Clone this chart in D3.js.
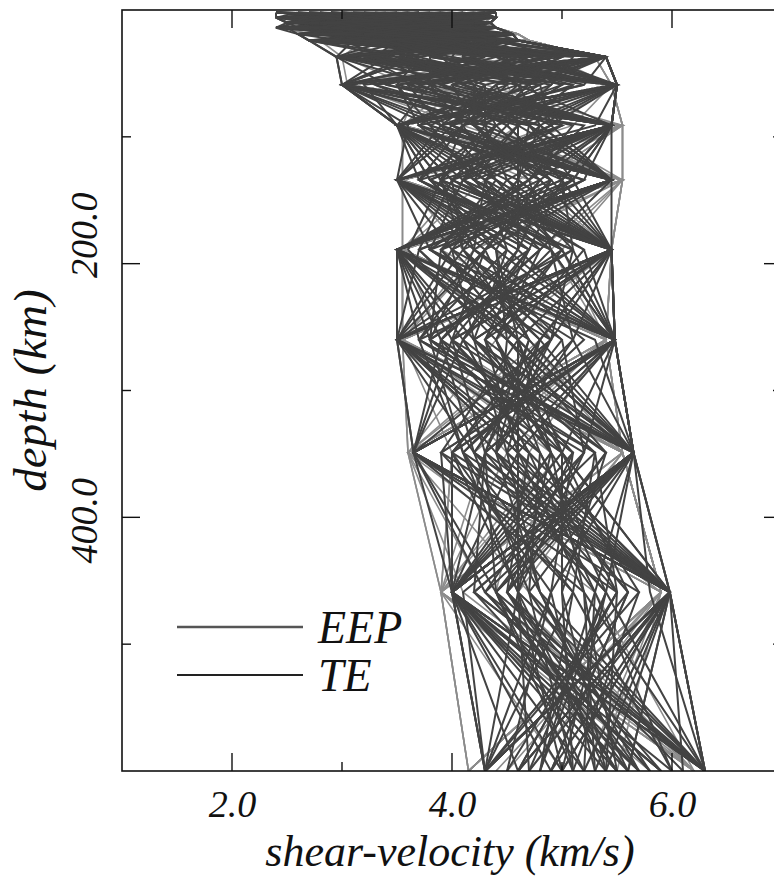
<!DOCTYPE html>
<html>
<head>
<meta charset="utf-8">
<script src="https://cdn.jsdelivr.net/npm/d3@7/dist/d3.min.js"></script>
<style>
  html, body { margin: 0; padding: 0; background: #fff; }
  svg { display: block; }
  text { font-family: "Liberation Serif", "Times New Roman", Tinos, serif; font-style: italic; fill: #111; }
</style>
</head>
<body>
<svg id="chart" width="774" height="879"></svg>
<script>
// Depths (km) of the model nodes shared by every shear-velocity profile
const nodeDepths = [2, 6, 10, 14, 19, 24, 37, 59, 91, 134, 189, 260, 349, 459, 600];

// TE ensemble: shear velocity (km/s) at each node depth
const teProfiles = [
  [3.10, 4.40, 2.60, 3.85, 4.20, 3.30, 5.40, 3.00, 4.80, 5.45, 3.90, 4.60, 5.65, 4.40, 5.10],
  [4.40, 2.40, 3.70, 4.40, 2.90, 4.10, 3.20, 5.50, 3.50, 4.20, 5.45, 3.50, 4.70, 5.98, 4.60],
  [2.40, 3.60, 4.35, 2.70, 4.55, 2.80, 4.70, 4.10, 5.45, 3.50, 4.60, 5.48, 3.65, 5.20, 6.30],
  [3.80, 2.90, 3.10, 4.40, 3.40, 4.60, 2.95, 5.10, 4.00, 5.10, 3.50, 4.20, 5.10, 4.00, 5.70],
  [2.70, 4.10, 2.50, 3.20, 4.10, 3.70, 5.40, 3.60, 5.45, 4.30, 5.00, 3.80, 5.65, 4.90, 4.30],
  [4.20, 4.40, 3.90, 2.40, 3.00, 4.30, 3.80, 5.50, 3.90, 3.50, 5.45, 4.90, 4.20, 5.98, 5.40],
  [3.40, 2.40, 4.35, 3.60, 2.60, 2.70, 5.00, 3.00, 5.20, 4.70, 3.80, 5.48, 4.00, 4.60, 6.30],
  [2.40, 3.20, 2.80, 4.10, 4.55, 4.00, 3.40, 4.50, 3.50, 5.45, 4.30, 3.70, 5.65, 5.30, 4.80],
  [3.90, 3.70, 3.30, 2.90, 3.60, 4.60, 5.40, 5.50, 4.40, 3.90, 3.60, 4.40, 4.90, 4.00, 5.90],
  [4.40, 2.70, 4.00, 4.40, 2.90, 3.10, 2.95, 3.80, 5.45, 4.00, 5.20, 5.48, 3.65, 5.98, 4.30],
  [2.90, 4.40, 2.50, 3.40, 4.30, 3.50, 4.30, 3.00, 3.80, 5.45, 4.80, 3.90, 5.40, 4.50, 6.10],
  [3.60, 3.00, 4.35, 2.40, 3.90, 2.70, 5.40, 4.70, 5.00, 3.50, 3.80, 5.10, 4.40, 5.98, 5.00],
  [4.10, 3.90, 3.60, 4.40, 2.60, 4.60, 3.10, 5.50, 3.50, 4.60, 5.45, 4.20, 5.65, 4.20, 6.30],
  [2.40, 4.40, 3.00, 3.70, 4.55, 3.90, 4.90, 3.30, 4.60, 5.45, 4.10, 3.50, 4.60, 5.60, 4.30],
  [3.20, 2.40, 4.20, 3.00, 3.20, 4.60, 2.95, 4.20, 5.45, 3.70, 4.90, 5.48, 3.90, 4.00, 5.50],
  [4.40, 3.50, 2.50, 4.40, 4.00, 2.90, 5.40, 5.50, 4.20, 4.90, 3.50, 4.70, 5.65, 5.98, 4.70],
  [2.80, 4.20, 3.90, 2.60, 4.55, 3.60, 3.60, 3.00, 3.50, 5.10, 5.45, 3.70, 4.10, 4.80, 6.30],
  [3.70, 2.60, 4.35, 3.90, 2.80, 4.40, 5.40, 4.00, 5.45, 3.50, 4.00, 5.48, 5.00, 4.00, 5.20],
  [4.00, 4.40, 2.70, 4.40, 3.70, 3.20, 4.00, 5.50, 4.10, 4.40, 5.45, 4.00, 3.65, 5.98, 4.30],
  [2.40, 3.40, 3.50, 2.40, 4.55, 4.20, 2.95, 3.40, 5.45, 5.20, 3.70, 4.50, 5.65, 4.30, 5.80],
  [3.30, 2.40, 4.35, 4.20, 2.60, 2.70, 5.40, 5.20, 3.50, 3.80, 5.00, 5.48, 4.30, 5.40, 6.30],
  [4.40, 4.00, 3.20, 3.30, 4.40, 4.60, 3.70, 3.00, 4.70, 5.45, 3.50, 3.80, 5.65, 4.00, 4.90],
  [2.60, 3.80, 2.50, 4.40, 3.10, 3.80, 5.40, 5.50, 3.50, 4.10, 5.45, 4.80, 4.00, 5.98, 5.30],
  [3.50, 2.50, 4.00, 2.80, 4.55, 2.70, 4.50, 3.90, 5.45, 3.50, 4.40, 5.48, 5.20, 4.60, 4.30],
  [4.30, 4.40, 2.90, 3.80, 3.40, 4.60, 3.00, 5.50, 4.90, 5.45, 3.50, 3.90, 3.65, 5.98, 6.30],
  [2.40, 3.10, 4.35, 4.40, 2.70, 3.40, 5.40, 3.20, 3.50, 4.50, 5.45, 5.10, 5.65, 4.00, 5.00],
  [3.90, 4.40, 3.40, 2.40, 4.55, 4.10, 4.10, 5.50, 5.30, 3.50, 4.70, 3.50, 4.80, 5.50, 4.50],
  [4.40, 2.40, 2.50, 3.50, 3.80, 2.90, 5.40, 4.40, 4.00, 5.45, 3.50, 5.48, 3.65, 5.98, 6.10],
  [2.90, 3.70, 4.10, 4.40, 2.60, 4.60, 2.95, 3.00, 5.45, 4.20, 5.45, 4.30, 5.65, 4.10, 4.30],
  [3.60, 4.40, 2.70, 3.10, 4.55, 3.00, 4.80, 5.50, 3.50, 3.90, 4.20, 5.48, 4.50, 5.98, 5.60],
  [4.40, 2.80, 4.35, 2.40, 3.30, 4.60, 5.40, 3.70, 4.50, 5.00, 5.45, 3.50, 5.65, 4.40, 6.30],
  [2.40, 4.40, 3.80, 4.00, 4.55, 3.50, 3.30, 5.50, 5.45, 4.80, 3.50, 4.60, 3.90, 5.10, 4.30],
  [3.30, 3.30, 2.50, 4.40, 2.60, 4.30, 5.40, 3.00, 3.60, 3.50, 4.90, 5.48, 5.65, 4.00, 5.90],
  [4.00, 2.40, 4.35, 2.90, 4.20, 2.70, 4.40, 5.50, 5.45, 5.10, 3.90, 3.80, 4.10, 5.98, 4.90],
  [2.70, 4.40, 3.30, 3.70, 3.50, 4.60, 2.95, 4.60, 3.50, 4.00, 5.45, 5.48, 5.65, 4.70, 6.30],
  [4.40, 3.60, 2.60, 4.40, 4.55, 3.30, 5.40, 3.00, 4.30, 5.45, 3.50, 4.10, 3.65, 5.98, 4.30],
  [3.10, 2.40, 4.35, 3.30, 2.90, 4.00, 3.90, 5.50, 5.45, 3.50, 4.50, 5.48, 4.60, 4.00, 5.40],
  [3.80, 4.40, 3.00, 2.40, 4.55, 4.60, 5.40, 3.50, 3.70, 4.80, 5.45, 3.50, 5.65, 5.80, 6.30],
  [2.40, 3.00, 4.35, 4.40, 3.20, 2.70, 3.50, 5.50, 4.70, 5.45, 3.80, 5.48, 4.30, 4.00, 4.60],
  [4.40, 4.40, 2.50, 3.40, 4.00, 4.60, 5.40, 3.00, 5.45, 3.50, 5.45, 4.00, 5.00, 5.98, 5.20],
  [3.00, 3.80, 2.50, 4.40, 4.10, 2.70, 4.60, 5.50, 3.50, 4.40, 5.45, 3.50, 5.30, 4.00, 6.30],
  [4.40, 2.60, 4.35, 3.10, 2.60, 4.60, 5.40, 3.00, 5.45, 5.00, 3.50, 4.90, 3.65, 5.70, 4.30],
  [2.40, 4.40, 3.50, 3.90, 4.55, 3.60, 3.00, 4.80, 4.10, 3.50, 5.10, 5.48, 5.65, 4.00, 5.60],
  [3.70, 3.20, 2.60, 2.40, 3.50, 4.60, 5.40, 5.50, 3.50, 5.20, 4.00, 3.50, 4.40, 5.98, 5.00],
  [4.20, 4.40, 4.35, 4.40, 2.60, 3.00, 3.40, 3.00, 5.45, 4.10, 5.45, 4.60, 5.65, 4.20, 6.30],
  [2.60, 2.40, 3.20, 3.60, 4.55, 4.60, 5.40, 4.30, 3.70, 5.45, 3.50, 5.48, 3.90, 5.98, 4.30],
  [3.40, 4.10, 4.35, 2.40, 3.90, 2.70, 2.95, 5.50, 5.45, 3.50, 4.70, 4.00, 5.65, 4.50, 5.70],
  [4.40, 3.30, 2.50, 4.40, 2.80, 4.30, 5.40, 3.00, 4.40, 4.90, 5.45, 3.50, 4.20, 5.98, 6.30],
  [2.40, 4.40, 3.80, 3.30, 4.55, 4.60, 3.80, 5.50, 3.50, 5.45, 3.50, 5.30, 5.65, 4.00, 4.30],
  [3.90, 2.40, 2.50, 4.40, 3.30, 3.50, 5.40, 4.00, 5.45, 3.50, 4.20, 5.48, 3.65, 5.50, 5.40],
  [4.40, 3.90, 4.35, 2.80, 4.55, 2.70, 2.95, 5.50, 4.60, 4.60, 5.45, 4.20, 5.65, 4.00, 6.30],
  [2.90, 4.40, 3.10, 4.40, 2.60, 4.60, 5.40, 3.00, 3.50, 5.45, 3.70, 3.50, 4.70, 5.98, 4.60],
  [3.50, 2.40, 4.35, 3.70, 4.30, 4.00, 4.50, 5.50, 5.45, 3.90, 5.45, 5.48, 3.65, 4.40, 5.20],
  [4.40, 4.40, 2.50, 2.40, 3.60, 2.70, 5.40, 3.30, 4.20, 5.45, 3.50, 4.50, 5.65, 5.98, 4.30],
  [2.40, 3.50, 3.90, 4.40, 4.55, 4.60, 3.20, 5.50, 3.50, 3.70, 5.00, 5.48, 4.00, 4.00, 6.30],
  [3.80, 2.40, 2.70, 3.50, 2.60, 3.70, 5.40, 4.60, 5.45, 4.70, 3.50, 3.70, 5.65, 5.40, 4.80],
  [4.10, 4.40, 4.35, 4.40, 4.00, 4.60, 2.95, 3.00, 3.90, 5.45, 5.45, 5.48, 3.65, 5.98, 4.30],
  [2.70, 3.60, 2.50, 2.60, 4.55, 2.90, 5.40, 5.50, 5.45, 3.50, 4.30, 3.50, 5.20, 4.00, 6.00],
  [4.40, 2.40, 3.60, 4.40, 2.90, 4.60, 4.20, 3.00, 3.50, 4.30, 5.45, 4.80, 5.65, 5.98, 4.30],
  [3.20, 4.40, 4.35, 3.00, 4.55, 3.20, 5.40, 5.50, 4.80, 5.45, 3.50, 5.48, 3.65, 4.30, 6.30],
  [2.40, 3.00, 2.50, 4.40, 3.40, 4.60, 3.50, 4.10, 5.45, 3.50, 5.45, 3.50, 5.00, 5.98, 4.60],
  [4.40, 4.40, 4.00, 2.40, 2.60, 2.70, 5.40, 3.00, 3.50, 5.45, 3.50, 5.48, 5.65, 4.00, 5.50],
  [3.60, 2.40, 2.50, 4.40, 4.55, 4.60, 2.95, 5.50, 5.45, 4.50, 5.10, 3.50, 3.65, 5.98, 6.30],
  [2.40, 4.00, 4.35, 3.40, 3.00, 3.90, 5.40, 3.80, 3.50, 3.90, 5.45, 5.48, 5.65, 4.00, 4.30],
  [4.40, 2.40, 3.40, 4.40, 4.55, 2.70, 4.70, 5.50, 5.45, 5.00, 3.50, 4.00, 4.30, 5.98, 5.60],
  [3.10, 4.40, 2.50, 2.50, 2.60, 4.60, 5.40, 3.00, 4.00, 3.50, 5.45, 5.48, 5.65, 4.00, 6.30],
  [4.40, 3.40, 4.35, 4.40, 4.55, 3.40, 2.95, 5.50, 5.45, 5.10, 3.50, 3.50, 3.65, 5.98, 4.30],
  [2.40, 2.40, 2.90, 3.90, 3.20, 4.60, 5.40, 4.80, 3.50, 4.00, 5.45, 5.48, 5.65, 4.00, 5.90],
  [3.90, 4.40, 4.35, 2.40, 4.55, 2.70, 3.70, 3.00, 5.45, 5.45, 3.50, 3.50, 4.60, 5.98, 6.30],
  [4.40, 3.00, 2.50, 4.40, 2.60, 4.60, 5.40, 5.50, 3.50, 3.80, 5.45, 5.48, 3.65, 4.00, 4.30],
  [3.50, 3.90, 3.20, 3.00, 3.80, 4.20, 4.60, 4.00, 4.20, 4.80, 4.30, 4.00, 4.90, 5.20, 5.30],
  [2.80, 3.20, 3.80, 3.90, 3.20, 3.40, 3.60, 4.80, 4.90, 4.00, 4.10, 4.70, 4.40, 4.80, 5.60],
  [4.00, 3.40, 2.90, 3.60, 4.20, 3.90, 4.20, 3.60, 3.90, 4.40, 5.00, 4.30, 4.60, 4.60, 5.00],
  [3.20, 4.10, 3.70, 2.80, 3.40, 4.40, 5.00, 4.40, 4.60, 4.10, 3.80, 5.00, 5.20, 4.30, 5.80],
  [3.70, 2.90, 4.00, 4.10, 2.90, 3.20, 3.90, 5.00, 4.00, 4.90, 4.60, 3.90, 4.20, 5.40, 4.70],
  [2.60, 3.60, 3.30, 3.40, 4.30, 3.60, 4.40, 3.40, 5.00, 3.80, 4.40, 4.60, 5.00, 5.00, 5.40],
  [4.10, 3.30, 4.20, 3.10, 3.60, 4.00, 3.50, 4.30, 4.30, 4.50, 4.00, 4.20, 4.50, 5.60, 4.90],
  [3.00, 4.00, 3.00, 4.30, 3.10, 2.90, 4.90, 4.70, 3.80, 4.20, 5.20, 4.50, 5.40, 4.40, 5.50],
  [3.40, 2.70, 3.60, 3.70, 4.00, 4.30, 3.30, 3.90, 4.70, 5.10, 4.20, 5.20, 4.10, 5.10, 6.00],
  [3.80, 3.70, 2.70, 3.20, 3.70, 3.50, 4.80, 4.20, 4.40, 3.70, 4.80, 4.40, 4.80, 4.70, 5.10],
  [2.90, 3.10, 3.90, 4.20, 2.80, 4.10, 4.00, 5.20, 3.70, 4.30, 4.50, 3.70, 5.30, 5.50, 4.60],
  [4.20, 3.50, 3.40, 2.70, 4.40, 3.30, 3.70, 3.50, 5.10, 4.70, 3.90, 4.80, 4.30, 4.20, 5.70],
  [3.30, 4.30, 3.10, 3.80, 3.30, 3.80, 4.50, 4.50, 4.10, 3.90, 4.70, 4.10, 4.70, 5.30, 5.20],
  [3.60, 2.80, 4.10, 3.50, 4.10, 4.50, 3.20, 3.70, 4.80, 4.60, 4.10, 4.90, 4.00, 4.90, 4.50],
  [2.70, 3.80, 2.80, 4.00, 3.50, 3.10, 5.10, 4.90, 3.90, 5.00, 5.10, 3.80, 5.10, 4.50, 5.90],
  [4.30, 3.00, 3.80, 2.90, 3.90, 4.10, 3.80, 3.80, 4.50, 4.00, 3.70, 4.60, 4.90, 5.70, 5.10],
  [3.10, 4.20, 3.50, 4.10, 3.00, 3.70, 4.20, 4.60, 4.20, 4.70, 4.90, 5.10, 4.10, 4.60, 5.40],
  [3.90, 3.30, 2.90, 3.30, 4.20, 4.40, 3.60, 4.10, 4.90, 3.80, 4.50, 4.20, 5.30, 5.10, 4.80],
  [2.90, 3.90, 4.00, 3.90, 3.40, 3.00, 4.70, 3.50, 3.80, 5.20, 4.00, 4.80, 4.50, 4.80, 5.70],
  [3.50, 2.80, 3.30, 3.20, 4.10, 4.20, 4.10, 5.10, 4.60, 4.20, 4.80, 3.90, 4.80, 5.40, 5.00],
  [4.10, 3.60, 3.70, 4.00, 3.20, 3.60, 3.40, 4.30, 4.00, 4.90, 4.30, 4.70, 4.30, 4.40, 5.60],
  [3.00, 4.00, 3.00, 2.80, 3.80, 3.90, 4.90, 3.90, 5.00, 4.10, 5.00, 4.40, 5.00, 5.60, 4.90],
  [3.70, 3.20, 4.10, 3.60, 2.90, 4.40, 3.70, 4.70, 4.30, 3.90, 4.10, 5.00, 4.20, 4.70, 5.80],
  [3.30, 3.70, 3.20, 4.20, 4.40, 3.20, 4.30, 3.60, 4.70, 4.60, 4.60, 4.10, 5.40, 5.00, 5.10],
  [2.80, 3.00, 3.60, 3.00, 3.60, 3.80, 5.00, 4.40, 3.90, 4.40, 3.90, 4.60, 4.60, 5.20, 5.50],
  [4.00, 4.10, 2.80, 3.70, 3.20, 4.10, 3.50, 4.90, 4.50, 5.00, 4.70, 4.30, 4.90, 4.60, 4.70],
  [3.20, 3.40, 3.90, 3.40, 4.00, 3.50, 4.60, 3.80, 4.10, 3.70, 5.10, 4.90, 4.40, 5.30, 6.00],
  [3.60, 3.80, 3.40, 2.90, 3.50, 4.30, 4.10, 4.60, 4.80, 4.30, 4.20, 3.80, 5.10, 4.90, 5.30],
  [2.60, 3.10, 3.10, 3.90, 4.10, 3.40, 3.90, 4.20, 4.20, 4.80, 4.40, 4.50, 4.40, 5.50, 4.60],
  [4.20, 3.50, 4.20, 3.30, 3.30, 4.00, 4.40, 5.00, 4.40, 4.10, 4.90, 4.10, 4.70, 4.50, 5.50]
];

// EEP ensemble: shear velocity (km/s) at each node depth
const eepProfiles = [
  [3.20, 4.35, 2.50, 4.00, 2.70, 4.70, 3.00, 5.45, 3.55, 5.55, 4.20, 3.55, 5.55, 3.90, 6.20],
  [4.30, 2.45, 4.30, 2.45, 4.60, 3.10, 5.30, 3.05, 5.55, 3.55, 5.45, 4.80, 3.60, 5.90, 4.15],
  [2.40, 3.80, 3.40, 4.40, 3.50, 2.80, 4.40, 4.90, 4.30, 5.55, 3.55, 5.40, 4.70, 4.40, 5.60],
  [3.70, 4.35, 2.50, 3.10, 4.60, 4.20, 3.00, 5.45, 5.55, 4.10, 3.55, 3.90, 5.55, 5.90, 4.50],
  [4.30, 2.90, 4.00, 4.40, 2.70, 4.70, 5.30, 3.70, 3.55, 5.55, 5.00, 5.40, 3.60, 4.10, 6.20],
  [2.70, 2.45, 4.30, 2.45, 4.10, 3.60, 3.80, 5.45, 4.90, 3.55, 5.45, 3.55, 5.00, 3.90, 4.15],
  [3.50, 4.35, 2.90, 4.40, 4.60, 2.80, 5.30, 3.05, 5.55, 4.60, 3.90, 5.40, 5.55, 5.90, 5.20],
  [4.30, 3.30, 3.60, 2.80, 3.10, 4.70, 3.00, 4.20, 3.55, 5.55, 5.45, 4.40, 3.60, 4.70, 6.20],
  [2.40, 4.00, 2.50, 4.40, 4.60, 3.30, 4.80, 5.45, 5.55, 3.55, 4.60, 5.40, 4.20, 5.90, 4.15],
  [3.90, 2.45, 4.30, 3.50, 2.70, 4.70, 5.30, 3.05, 4.10, 5.55, 3.55, 3.55, 5.55, 3.90, 5.00],
  [4.30, 4.35, 3.10, 2.45, 4.00, 2.80, 3.40, 5.45, 5.55, 4.80, 5.45, 5.40, 3.60, 5.30, 6.20],
  [2.90, 3.10, 4.30, 4.40, 4.60, 4.30, 5.30, 4.00, 3.55, 3.55, 4.10, 4.70, 5.55, 5.90, 4.15],
  [3.40, 4.35, 2.50, 3.80, 2.70, 4.70, 3.00, 5.45, 5.55, 5.55, 3.55, 3.55, 4.50, 3.90, 5.80],
  [4.30, 2.45, 3.90, 4.40, 3.80, 3.00, 4.60, 3.05, 4.60, 3.90, 5.45, 5.40, 3.60, 5.90, 4.40],
  [2.40, 3.90, 4.30, 2.45, 4.60, 4.70, 5.30, 5.45, 3.55, 5.55, 4.80, 3.80, 5.55, 4.60, 6.20],
  [3.60, 4.35, 2.70, 4.20, 2.90, 3.90, 3.00, 3.60, 5.55, 4.30, 3.55, 5.40, 4.00, 3.90, 4.15],
  [4.30, 2.70, 4.30, 3.30, 4.60, 2.80, 4.20, 5.45, 4.00, 5.55, 5.45, 3.55, 5.55, 5.90, 5.50],
  [2.60, 4.35, 2.50, 4.40, 3.30, 4.70, 5.30, 3.05, 5.55, 3.55, 4.40, 4.90, 3.60, 4.30, 6.20],
  [3.80, 3.50, 3.60, 2.45, 4.60, 3.50, 3.50, 4.70, 3.55, 5.55, 5.45, 5.40, 5.55, 5.90, 4.15],
  [4.30, 2.45, 4.30, 4.40, 2.70, 4.70, 5.30, 5.45, 5.10, 3.55, 3.55, 3.55, 4.90, 3.90, 5.90],
  [3.00, 4.35, 2.80, 3.60, 4.60, 3.20, 3.00, 3.05, 5.55, 5.55, 4.90, 5.40, 3.60, 5.90, 4.70],
  [2.40, 3.70, 4.30, 2.90, 3.60, 4.70, 4.90, 5.45, 3.55, 4.70, 5.45, 4.20, 5.55, 4.50, 6.20],
  [4.30, 2.45, 3.20, 4.40, 4.60, 2.80, 5.30, 4.30, 5.55, 3.55, 3.55, 5.40, 4.30, 3.90, 4.15],
  [3.30, 4.35, 2.50, 2.45, 2.70, 4.70, 3.00, 5.45, 4.20, 5.55, 5.45, 3.55, 5.55, 5.90, 5.30],
  [2.40, 4.35, 4.30, 4.40, 2.70, 3.60, 5.30, 3.05, 5.55, 3.55, 5.45, 3.55, 3.60, 5.90, 4.15],
  [4.30, 2.45, 2.50, 2.45, 4.60, 4.70, 3.00, 5.45, 3.55, 5.55, 3.55, 5.40, 5.55, 3.90, 6.20],
  [3.60, 4.35, 4.30, 3.90, 3.90, 2.80, 4.30, 3.05, 5.55, 5.55, 4.30, 3.55, 5.55, 5.90, 4.15],
  [2.40, 3.20, 2.50, 4.40, 4.60, 4.70, 5.30, 5.45, 3.55, 3.55, 5.45, 5.40, 3.60, 3.90, 6.20],
  [4.30, 4.35, 3.70, 2.45, 2.70, 3.40, 3.00, 4.50, 4.70, 5.55, 3.55, 4.60, 5.55, 5.90, 4.15],
  [3.10, 2.45, 4.30, 4.40, 4.60, 4.70, 5.30, 3.05, 5.55, 3.55, 5.45, 3.55, 3.60, 3.90, 5.70],
  [4.30, 4.35, 2.50, 3.20, 3.20, 2.80, 3.00, 5.45, 3.55, 5.55, 3.55, 5.40, 5.55, 5.90, 4.15],
  [2.60, 3.60, 4.30, 4.40, 4.60, 4.70, 5.30, 3.70, 5.55, 4.80, 5.45, 3.55, 4.00, 3.90, 6.20]
];

const xDomain = [1, 7];
const yDomain = [0, 600];
const xMajorTicks = [2, 4, 6];
const xMinorTicks = [3, 5];
const yMajorTicks = [200, 400];
const yMinorTicks = [100, 300, 500];
const seriesNames = ["EEP", "TE"];
const xTitle = "shear-velocity (km/s)";
const yTitle = "depth (km)";

const svg = d3.select("#chart");
const W = 774, H = 879;
const plot = { left: 122, top: 10, right: 782, bottom: 771 };

const x = d3.scaleLinear().domain(xDomain).range([plot.left, plot.right]);
const y = d3.scaleLinear().domain(yDomain).range([plot.top, plot.bottom]);

svg.append("rect").attr("width", W).attr("height", H).attr("fill", "#fff");

svg.append("defs").append("clipPath").attr("id", "plotClip")
  .append("rect")
  .attr("x", plot.left).attr("y", plot.top)
  .attr("width", plot.right - plot.left).attr("height", plot.bottom - plot.top);

const line = d3.line()
  .x(d => x(d.v))
  .y(d => y(d.depth));

const toPoints = profile => profile.map((v, i) => ({ v, depth: nodeDepths[i] }));

const profilesG = svg.append("g").attr("clip-path", "url(#plotClip)");

// EEP models underneath in lighter grey
profilesG.append("g").selectAll("path")
  .data(eepProfiles)
  .join("path")
  .attr("d", p => line(toPoints(p)))
  .attr("fill", "none")
  .attr("stroke", "#8c8c8c")
  .attr("stroke-width", 1.6)
  .attr("stroke-linejoin", "miter");

// TE models on top in dark grey
profilesG.append("g").selectAll("path")
  .data(teProfiles)
  .join("path")
  .attr("d", p => line(toPoints(p)))
  .attr("fill", "none")
  .attr("stroke", "#434343")
  .attr("stroke-width", 2.0)
  .attr("stroke-linejoin", "miter");

// Frame and axes
const axisColor = "#111";
const majorLen = 18, minorLen = 9;
const labelFont = "'Liberation Serif', 'Times New Roman', serif";

const axisBottom = d3.axisBottom(x).tickValues(xMajorTicks).tickSize(0).tickPadding(0).tickFormat(d3.format(".1f"));
const gx = svg.append("g").attr("transform", `translate(0,${plot.bottom})`).call(axisBottom);
gx.select(".domain").remove();
gx.selectAll("text")
  .attr("dy", null)
  .attr("y", 46)
  .style("font-size", "38px")
  .style("font-family", labelFont)
  .style("font-style", "italic")
  .attr("fill", "#111");

// depth labels sit slightly above their ticks near the top of the axis
const yLabelShift = d => (d === 200 ? -29 : 3);
const axisLeft = d3.axisLeft(y).tickValues(yMajorTicks).tickSize(0).tickPadding(0).tickFormat(d3.format(".1f"));
const gy = svg.append("g").attr("transform", `translate(${plot.left},0)`).call(axisLeft);
gy.select(".domain").remove();
gy.selectAll(".tick text")
  .attr("x", null).attr("dy", null)
  .attr("transform", d => `translate(-25,${yLabelShift(d)}) rotate(-90)`)
  .attr("text-anchor", "middle")
  .style("font-size", "38px")
  .style("font-family", labelFont)
  .style("font-style", "italic")
  .attr("fill", "#111");

const frame = svg.append("g").attr("stroke", axisColor).attr("fill", "none");
frame.append("rect")
  .attr("x", plot.left).attr("y", plot.top)
  .attr("width", plot.right - plot.left).attr("height", plot.bottom - plot.top)
  .attr("stroke-width", 1.6);

const tickG = svg.append("g").attr("stroke", axisColor).attr("stroke-width", 1.4);
// bottom and top
xMajorTicks.concat(xMinorTicks).forEach(v => {
  const len = xMajorTicks.includes(v) ? majorLen : minorLen;
  tickG.append("line").attr("x1", x(v)).attr("x2", x(v)).attr("y1", plot.bottom).attr("y2", plot.bottom - len);
  tickG.append("line").attr("x1", x(v)).attr("x2", x(v)).attr("y1", plot.top).attr("y2", plot.top + len);
});
// left and right
yMajorTicks.concat(yMinorTicks).forEach(v => {
  const len = yMajorTicks.includes(v) ? majorLen : minorLen;
  tickG.append("line").attr("x1", plot.left).attr("x2", plot.left + len).attr("y1", y(v)).attr("y2", y(v));
  tickG.append("line").attr("x1", plot.right).attr("x2", plot.right - len).attr("y1", y(v)).attr("y2", y(v));
});

// Axis titles
svg.append("text")
  .attr("x", 450).attr("y", 866)
  .attr("text-anchor", "middle")
  .style("font-size", "44px")
  .text(xTitle);

svg.append("text")
  .attr("transform", `translate(46,${(plot.top + plot.bottom) / 2}) rotate(-90)`)
  .attr("text-anchor", "middle")
  .style("font-size", "47px")
  .text(yTitle);

// Legend
const legend = svg.append("g");
const legendRows = [
  { name: seriesNames[0], y: 627, stroke: "#555", width: 2.6 },
  { name: seriesNames[1], y: 675, stroke: "#222", width: 2.2 }
];
legendRows.forEach(r => {
  legend.append("line")
    .attr("x1", 177).attr("x2", 303)
    .attr("y1", r.y).attr("y2", r.y)
    .attr("stroke", r.stroke).attr("stroke-width", r.width);
  legend.append("text")
    .attr("x", 318).attr("y", r.y + 16)
    .style("font-size", "46px")
    .text(r.name);
});
</script>
